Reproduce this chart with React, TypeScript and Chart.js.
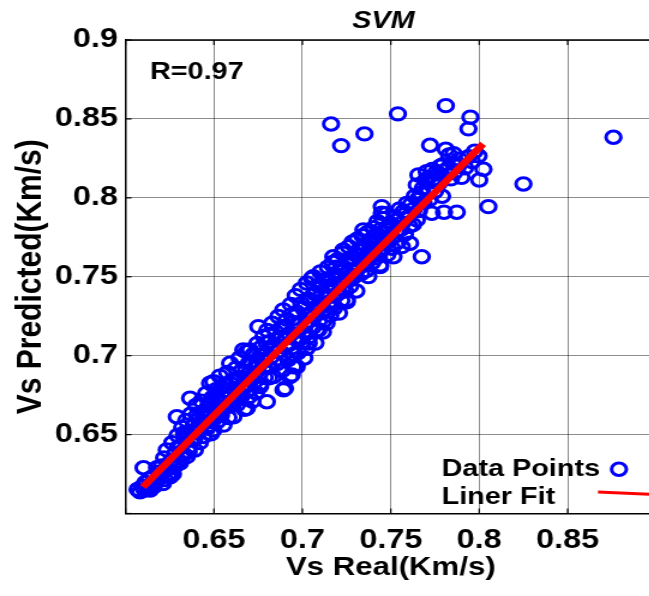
import React, { useEffect, useRef } from 'react';
import { Chart, registerables } from 'chart.js';

Chart.register(...registerables);

// ---------- text ----------
const chartTitle = 'SVM';
const xAxisTitle = 'Vs Real(Km/s)';
const yAxisTitle = 'Vs Predicted(Km/s)';
const rLabel = 'R=0.97';
const legendLabels = ['Data Points', 'Liner Fit'];

// ---------- axes ----------
const axisMin = 0.6;
const axisMax = 0.9;
const tickStep = 0.05;
const xTickLabels = ['0.65', '0.7', '0.75', '0.8', '0.85'];
const yTickLabels = ['0.65', '0.7', '0.75', '0.8', '0.85', '0.9'];

// ---------- data ----------
// Linear fit endpoints [Vs real, Vs predicted]
const fitLine: [number, number][] = [
  [0.6099, 0.6168],
  [0.8022, 0.8342],
];

// Data points [Vs real, Vs predicted]
const dataPoints: [number, number][] = [
  [0.6068, 0.6152], [0.6082, 0.6138], [0.6095, 0.6171], [0.6108, 0.6149], [0.6112, 0.6196],
  [0.6127, 0.6163], [0.6135, 0.6221], [0.6146, 0.6184], [0.6158, 0.6236], [0.6171, 0.6205],
  [0.6102, 0.6290], [0.6139, 0.6149],
  [0.6185, 0.6262], [0.6192, 0.6224], [0.6204, 0.6301], [0.6211, 0.6189], [0.6218, 0.6352],
  [0.6226, 0.6278], [0.6233, 0.6403], [0.6241, 0.6246], [0.6252, 0.6233], [0.6259, 0.6335],
  [0.6264, 0.6448], [0.6273, 0.6291], [0.6281, 0.6380], [0.6290, 0.6613], [0.6294, 0.6495],
  [0.6302, 0.6332], [0.6308, 0.6320],
  [0.6313, 0.6421], [0.6320, 0.6545], [0.6328, 0.6377], [0.6335, 0.6468], [0.6343, 0.6590],
  [0.6346, 0.6360], [0.6352, 0.6512], [0.6361, 0.6423], [0.6365, 0.6730], [0.6370, 0.6630],
  [0.6378, 0.6471], [0.6385, 0.6555], [0.6392, 0.6402], [0.6399, 0.6684], [0.6406, 0.6518],
  [0.6413, 0.6601], [0.6420, 0.6449], [0.6428, 0.6712], [0.6434, 0.6567], [0.6441, 0.6488],
  [0.6448, 0.6649],
  [0.6455, 0.6760], [0.6462, 0.6542], [0.6469, 0.6691], [0.6476, 0.6614], [0.6478, 0.6825],
  [0.6483, 0.6505], [0.6490, 0.6733], [0.6497, 0.6529], [0.6497, 0.6835], [0.6504, 0.6650],
  [0.6511, 0.6784], [0.6518, 0.6581], [0.6525, 0.6712], [0.6533, 0.6870], [0.6540, 0.6622],
  [0.6547, 0.6750], [0.6554, 0.6560], [0.6561, 0.6818], [0.6568, 0.6675], [0.6575, 0.6893],
  [0.6582, 0.6608], [0.6589, 0.6760], [0.6591, 0.6952], [0.6597, 0.6700],
  [0.6604, 0.6845], [0.6610, 0.6613], [0.6617, 0.6780], [0.6624, 0.6920], [0.6631, 0.6690],
  [0.6638, 0.6862], [0.6645, 0.6985], [0.6652, 0.6735], [0.6659, 0.6812], [0.6666, 0.7036],
  [0.6673, 0.6660], [0.6680, 0.6902], [0.6685, 0.7025], [0.6686, 0.6667], [0.6692, 0.6780],
  [0.6699, 0.6955], [0.6704, 0.7036], [0.6710, 0.6845], [0.6717, 0.6712], [0.6724, 0.7010],
  [0.6731, 0.6890], [0.6738, 0.6765], [0.6745, 0.7078],
  [0.6751, 0.7184], [0.6752, 0.6935], [0.6759, 0.6820], [0.6761, 0.6804], [0.6766, 0.7052],
  [0.6773, 0.6968], [0.6780, 0.7122], [0.6787, 0.6862], [0.6794, 0.7015], [0.6799, 0.6708],
  [0.6801, 0.7160], [0.6808, 0.6925], [0.6815, 0.7088], [0.6822, 0.6990], [0.6829, 0.7205],
  [0.6836, 0.6867], [0.6843, 0.7060], [0.6850, 0.7150], [0.6857, 0.6950], [0.6864, 0.7248],
  [0.6871, 0.7030], [0.6878, 0.7112], [0.6885, 0.6905], [0.6892, 0.7290],
  [0.6893, 0.6783], [0.6899, 0.7185], [0.6902, 0.6793], [0.6906, 0.7065], [0.6913, 0.7230],
  [0.6920, 0.6975], [0.6927, 0.7140], [0.6930, 0.6867], [0.6934, 0.7325], [0.6940, 0.6878],
  [0.6941, 0.7050], [0.6948, 0.7210], [0.6949, 0.6930], [0.6955, 0.7110], [0.6962, 0.7380],
  [0.6968, 0.6930], [0.6969, 0.7275], [0.6976, 0.7020], [0.6983, 0.7165], [0.6990, 0.7420],
  [0.6997, 0.7085], [0.7004, 0.7300], [0.7011, 0.6985], [0.7018, 0.7200], [0.7025, 0.7047],
  [0.7025, 0.7460], [0.7032, 0.7360],
  [0.7039, 0.7120], [0.7046, 0.7265], [0.7053, 0.7490], [0.7060, 0.7180], [0.7062, 0.7500],
  [0.7067, 0.7395], [0.7074, 0.7080], [0.7081, 0.7163], [0.7081, 0.7310], [0.7088, 0.7445],
  [0.7091, 0.7163], [0.7095, 0.7225], [0.7102, 0.7530], [0.7109, 0.7380], [0.7116, 0.7150],
  [0.7123, 0.7290], [0.7130, 0.7480], [0.7137, 0.7205], [0.7144, 0.7560], [0.7151, 0.7340],
  [0.7158, 0.7255], [0.7165, 0.7430], [0.7172, 0.7590], [0.7175, 0.7627], [0.7179, 0.7300],
  [0.7186, 0.7510], [0.7193, 0.7385],
  [0.7200, 0.7610], [0.7207, 0.7270], [0.7214, 0.7460], [0.7221, 0.7350], [0.7228, 0.7650],
  [0.7232, 0.7670], [0.7235, 0.7540], [0.7242, 0.7410], [0.7249, 0.7600], [0.7251, 0.7353],
  [0.7251, 0.7342], [0.7256, 0.7480], [0.7263, 0.7690], [0.7270, 0.7440], [0.7277, 0.7580],
  [0.7284, 0.7720], [0.7291, 0.7500], [0.7298, 0.7640], [0.7305, 0.7410], [0.7312, 0.7740],
  [0.7319, 0.7560], [0.7326, 0.7680], [0.7333, 0.7520], [0.7340, 0.7760],
  [0.7345, 0.7797], [0.7347, 0.7600], [0.7354, 0.7700], [0.7361, 0.7540], [0.7368, 0.7780],
  [0.7373, 0.7501], [0.7375, 0.7650], [0.7383, 0.7649], [0.7389, 0.7730], [0.7396, 0.7590],
  [0.7403, 0.7810], [0.7410, 0.7680], [0.7417, 0.7620], [0.7424, 0.7850], [0.7431, 0.7740],
  [0.7439, 0.7564], [0.7440, 0.7575], [0.7445, 0.7680], [0.7449, 0.7944], [0.7449, 0.7902],
  [0.7452, 0.7870], [0.7459, 0.7780], [0.7466, 0.7710],
  [0.7473, 0.7900], [0.7480, 0.7640], [0.7487, 0.7820], [0.7496, 0.7839], [0.7501, 0.7740],
  [0.7508, 0.7680], [0.7515, 0.7627], [0.7522, 0.7880], [0.7530, 0.7790], [0.7540, 0.7720],
  [0.7550, 0.7930], [0.7562, 0.7691], [0.7565, 0.7840], [0.7571, 0.7913], [0.7580, 0.7770],
  [0.7590, 0.7965], [0.7600, 0.7880], [0.7609, 0.7712], [0.7615, 0.7960], [0.7625, 0.7830],
  [0.7635, 0.8010], [0.7647, 0.8082], [0.7647, 0.7860], [0.7656, 0.8145], [0.7660, 0.7920],
  [0.7670, 0.8030], [0.7675, 0.7627], [0.7685, 0.7970],
  [0.7703, 0.8166], [0.7710, 0.8060], [0.7720, 0.7990], [0.7722, 0.8333], [0.7732, 0.7902],
  [0.7740, 0.8120], [0.7750, 0.8040], [0.7760, 0.8166], [0.7770, 0.8090], [0.7780, 0.8200],
  [0.7790, 0.8010], [0.7801, 0.7909], [0.7811, 0.8308], [0.7817, 0.8177], [0.7830, 0.8272],
  [0.7840, 0.8120], [0.7850, 0.8220], [0.7860, 0.8160], [0.7873, 0.7909], [0.7888, 0.8245],
  [0.7900, 0.8130], [0.7920, 0.8190], [0.7940, 0.8260], [0.7960, 0.8230], [0.7975, 0.8295],
  [0.7996, 0.8266], [0.8000, 0.8113], [0.8024, 0.8181], [0.8052, 0.7944],
  [0.7162, 0.8468], [0.7219, 0.8331], [0.7351, 0.8405], [0.7540, 0.8532], [0.7811, 0.8584],
  [0.7950, 0.8511], [0.7939, 0.8437], [0.8759, 0.8384], [0.8250, 0.8088],
  // denser core of the band
  [0.6160, 0.6170], [0.6178, 0.6290], [0.6199, 0.6245], [0.6222, 0.6215], [0.6247, 0.6305],
  [0.6268, 0.6250], [0.6286, 0.6310], [0.6297, 0.6420],
  [0.6317, 0.6355], [0.6331, 0.6510], [0.6357, 0.6390], [0.6374, 0.6520], [0.6389, 0.6470],
  [0.6403, 0.6620], [0.6417, 0.6530], [0.6431, 0.6640], [0.6445, 0.6580],
  [0.6458, 0.6640], [0.6472, 0.6560], [0.6486, 0.6700], [0.6500, 0.6600], [0.6514, 0.6740],
  [0.6528, 0.6640], [0.6543, 0.6800], [0.6557, 0.6700], [0.6571, 0.6780], [0.6585, 0.6680],
  [0.6599, 0.6820],
  [0.6613, 0.6720], [0.6627, 0.6850], [0.6641, 0.6760], [0.6655, 0.6900], [0.6669, 0.6800],
  [0.6683, 0.6860], [0.6697, 0.6740], [0.6711, 0.6950], [0.6727, 0.6830], [0.6741, 0.6950],
  [0.6756, 0.6880], [0.6770, 0.7000], [0.6784, 0.6930], [0.6798, 0.7080], [0.6812, 0.6860],
  [0.6826, 0.7040], [0.6840, 0.6960], [0.6854, 0.7100], [0.6868, 0.6980], [0.6882, 0.7180],
  [0.6896, 0.7010], [0.6910, 0.7120], [0.6924, 0.7070], [0.6938, 0.7260], [0.6952, 0.7010],
  [0.6966, 0.7200], [0.6980, 0.7100], [0.6994, 0.7330], [0.7008, 0.7150], [0.7022, 0.7250],
  [0.7036, 0.7080],
  [0.7050, 0.7350], [0.7064, 0.7250], [0.7078, 0.7400], [0.7092, 0.7300], [0.7106, 0.7450],
  [0.7120, 0.7220], [0.7134, 0.7380], [0.7148, 0.7480], [0.7162, 0.7310], [0.7176, 0.7450],
  [0.7190, 0.7560],
  [0.7204, 0.7400], [0.7218, 0.7560], [0.7232, 0.7470], [0.7246, 0.7520], [0.7260, 0.7610],
  [0.7274, 0.7510], [0.7288, 0.7620], [0.7302, 0.7530], [0.7316, 0.7640], [0.7330, 0.7600],
  [0.7344, 0.7680],
  [0.7358, 0.7620], [0.7372, 0.7720], [0.7386, 0.7680], [0.7400, 0.7750], [0.7414, 0.7720],
  [0.7428, 0.7660], [0.7442, 0.7800], [0.7456, 0.7740], [0.7470, 0.7800], [0.7484, 0.7750],
  [0.7512, 0.7820], [0.7535, 0.7860], [0.7558, 0.7800], [0.7585, 0.7900], [0.7605, 0.7820],
  [0.7630, 0.7930], [0.7652, 0.7990], [0.7680, 0.8060], [0.7695, 0.8110],
  [0.7715, 0.8130], [0.7735, 0.8180], [0.7755, 0.8110], [0.7775, 0.8150], [0.7795, 0.8210],
  [0.7825, 0.8190], [0.7855, 0.8280], [0.7880, 0.8200],
];

// ---------- layout (canvas px; canvas is stretched horizontally by STRETCH) ----------
const STRETCH = 1.2;
const CANVAS_W = 566;
const CANVAS_H = 596;
const FONT = "'Liberation Sans', Arial, Helvetica, sans-serif";
const BLUE = '#0000ff';
const RED = '#ff0000';

const fmt = (v: number) => String(Number(Number(v).toFixed(2)));

const decorPlugin = {
  id: 'decor',
  afterDraw(chart: any) {
    const { ctx, chartArea, scales } = chart;
    const xs = scales.x;
    const ys = scales.y;
    ctx.save();
    // top border of the box
    ctx.strokeStyle = '#000';
    ctx.lineWidth = 1.5;
    ctx.beginPath();
    ctx.moveTo(chartArea.left, chartArea.top);
    ctx.lineTo(chartArea.right + 20, chartArea.top);
    ctx.stroke();
    // inward tick marks
    ctx.lineWidth = 1.2;
    xs.ticks.forEach((t: any) => {
      const px = xs.getPixelForValue(t.value);
      ctx.beginPath();
      ctx.moveTo(px, chartArea.bottom);
      ctx.lineTo(px, chartArea.bottom - 5);
      ctx.moveTo(px, chartArea.top);
      ctx.lineTo(px, chartArea.top + 5);
      ctx.stroke();
    });
    ys.ticks.forEach((t: any) => {
      const py = ys.getPixelForValue(t.value);
      ctx.beginPath();
      ctx.moveTo(chartArea.left, py);
      ctx.lineTo(chartArea.left + 5, py);
      ctx.stroke();
    });
    // title
    ctx.fillStyle = '#000';
    ctx.textBaseline = 'alphabetic';
    ctx.textAlign = 'center';
    ctx.font = `italic bold 24px ${FONT}`;
    ctx.fillText(chartTitle, 319.6, 28);
    // R label
    ctx.textAlign = 'left';
    ctx.font = `bold 24px ${FONT}`;
    ctx.fillText(rLabel, 125, 79);
    // legend
    ctx.fillText(legendLabels[0], 368, 476);
    ctx.fillText(legendLabels[1], 368, 504);
    ctx.strokeStyle = BLUE;
    ctx.lineWidth = 3;
    ctx.beginPath();
    ctx.arc(515.8, 469.3, 6.2, 0, Math.PI * 2);
    ctx.stroke();
    ctx.strokeStyle = RED;
    ctx.lineWidth = 3;
    ctx.beginPath();
    ctx.moveTo(498.3, 492);
    ctx.lineTo(565, 495.5);
    ctx.stroke();
    ctx.restore();
  },
};

export default function App() {
  const canvasRef = useRef<HTMLCanvasElement | null>(null);

  useEffect(() => {
    const canvas = canvasRef.current;
    if (!canvas) return;
    const chart = new Chart(canvas, {
      type: 'scatter',
      data: {
        datasets: [
          {
            type: 'line',
            label: legendLabels[1],
            data: fitLine.map(([x, y]) => ({ x, y })),
            borderColor: RED,
            borderWidth: 6.5,
            pointRadius: 0,
            fill: false,
            order: 0,
          } as any,
          {
            type: 'scatter',
            label: legendLabels[0],
            data: dataPoints.map(([x, y]) => ({ x, y })),
            pointStyle: 'circle',
            pointRadius: 6.2,
            pointBorderWidth: 3,
            borderColor: BLUE,
            backgroundColor: 'rgba(0,0,0,0)',
            order: 1,
          },
        ],
      },
      options: {
        responsive: false,
        animation: false,
        devicePixelRatio: 1,
        layout: { padding: { left: 0, right: 19.3, top: 40, bottom: 0 } },
        plugins: {
          legend: { display: false },
          title: { display: false },
          tooltip: { enabled: false },
        },
        scales: {
          x: {
            type: 'linear',
            min: axisMin,
            max: axisMax,
            afterFit: (s: any) => { s.height = CANVAS_H - 513.5; },
            border: { color: '#000', width: 1.5 },
            grid: { color: 'rgba(0,0,0,0.45)', lineWidth: 1, drawTicks: false },
            ticks: {
              stepSize: tickStep,
              padding: 11,
              color: '#000',
              font: { family: FONT, size: 27, weight: 'bold' },
              maxRotation: 0,
              autoSkip: false,
              callback: (v: any) => (xTickLabels.includes(fmt(v)) ? fmt(v) : ''),
            },
            title: {
              display: true,
              text: xAxisTitle,
              color: '#000',
              font: { family: FONT, size: 26, weight: 'bold' },
              padding: { top: 0, bottom: 13 },
            },
          },
          y: {
            type: 'linear',
            min: axisMin,
            max: axisMax,
            afterFit: (s: any) => { s.width = 104.6; },
            border: { color: '#000', width: 1.5 },
            grid: { color: 'rgba(0,0,0,0.45)', lineWidth: 1, drawTicks: false },
            ticks: {
              stepSize: tickStep,
              padding: 6.3,
              color: '#000',
              font: { family: FONT, size: 27, weight: 'bold' },
              autoSkip: false,
              callback: (v: any) => (yTickLabels.includes(fmt(v)) ? fmt(v) : ''),
            },
            title: {
              display: true,
              text: yAxisTitle,
              color: '#000',
              font: { family: FONT, size: 30, weight: 'bold' },
              padding: { top: 8, bottom: 0 },
            },
          },
        },
      },
      plugins: [decorPlugin],
    } as any);
    return () => chart.destroy();
  }, []);

  return (
    <div
      style={{
        position: 'fixed',
        left: 0,
        top: 0,
        width: 649,
        height: 596,
        overflow: 'hidden',
        background: '#fff',
      }}
    >
      <div
        style={{
          width: CANVAS_W,
          height: CANVAS_H,
          transform: `scaleX(${STRETCH})`,
          transformOrigin: '0 0',
        }}
      >
        <canvas
          ref={canvasRef}
          width={CANVAS_W}
          height={CANVAS_H}
          style={{ display: 'block', width: CANVAS_W, height: CANVAS_H }}
        />
      </div>
    </div>
  );
}
